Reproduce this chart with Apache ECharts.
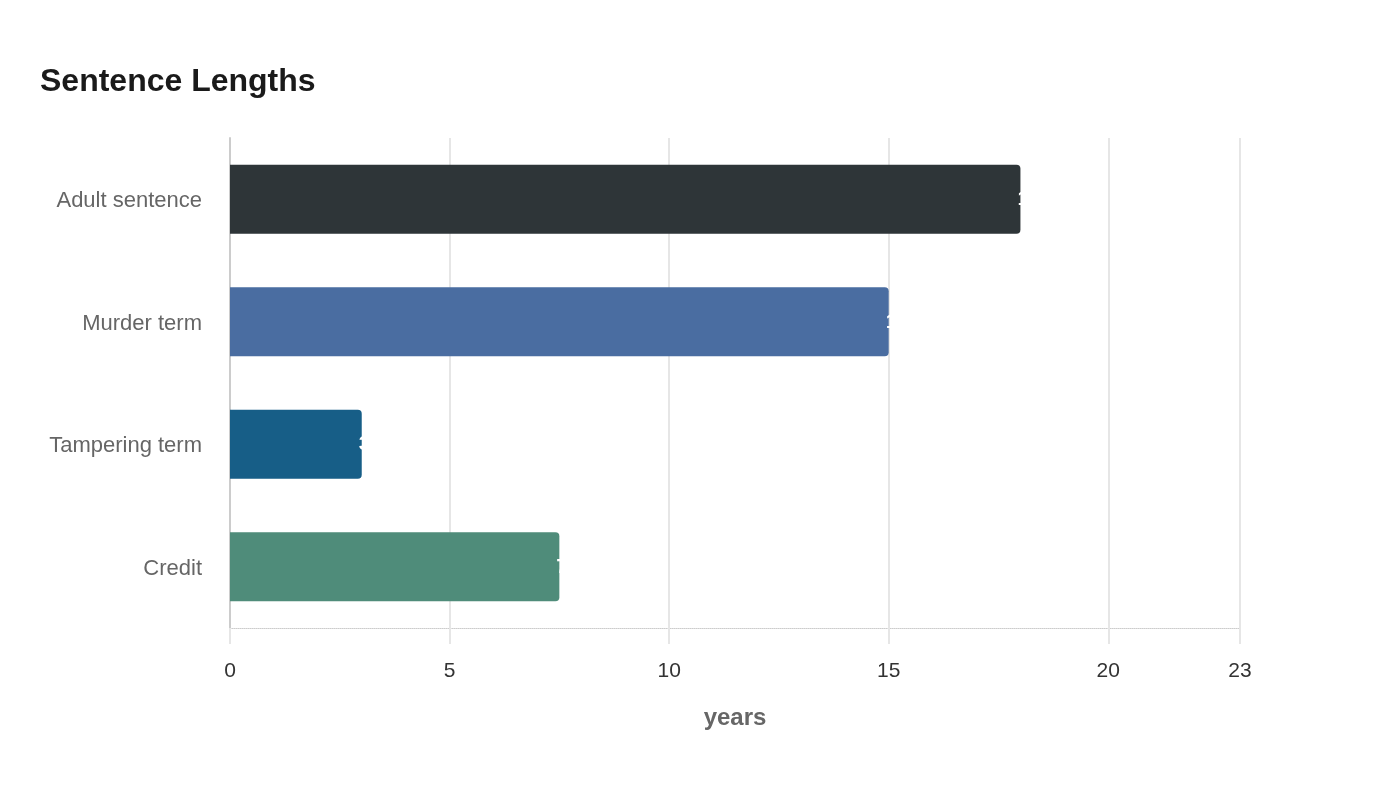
<!DOCTYPE html>
<html>
<head>
<meta charset="utf-8">
<script src="https://cdn.jsdelivr.net/npm/echarts@6/dist/echarts.min.js"></script>
<style>
  html, body { margin: 0; padding: 0; background: #fff; }
  #chart { width: 1400px; height: 800px; }
</style>
</head>
<body>
<div id="chart"></div>
<script>
const categories = ['Adult sentence', 'Murder term', 'Tampering term', 'Credit'];
const years = [18, 15, 3, 7.5];
const barColors = ['#2e3538', '#4a6da1', '#175e87', '#4f8c7a'];

const font = '"Liberation Sans", Arial, sans-serif';

let myChart = echarts.init(document.getElementById('chart'));
let option = {
    backgroundColor: '#ffffff',
    animation: false,
    textStyle: { fontFamily: font },
    title: {
        text: 'Sentence Lengths',
        left: 35,
        top: 61,
        textStyle: { fontSize: 32, fontWeight: 'bold', color: '#1a1a1a', fontFamily: font }
    },
    grid: { left: 230, right: 160, top: 138, bottom: 172, containLabel: false },
    xAxis: {
        type: 'value',
        min: 0,
        max: 23,
        interval: 5,
        name: 'years',
        nameLocation: 'middle',
        nameGap: 78,
        nameTextStyle: { fontSize: 24, fontWeight: 'bold', color: '#666666', fontFamily: font },
        axisLine: { show: true, lineStyle: { color: '#cccccc', type: 'dotted', width: 1 } },
        axisTick: { show: true, length: 16, lineStyle: { color: '#e6e6e6', width: 2 } },
        axisLabel: { fontSize: 21, color: '#333333', margin: 33, fontFamily: font, showMaxLabel: true },
        splitLine: { show: true, lineStyle: { color: '#e6e6e6', width: 2 } }
    },
    yAxis: {
        type: 'category',
        data: categories,
        inverse: true,
        axisLine: { show: true, lineStyle: { color: '#cccccc', width: 2 } },
        axisTick: { show: false },
        axisLabel: { fontSize: 22, color: '#666666', margin: 28, lineHeight: 30, verticalAlign: 'top', padding: [-13, 0, 0, 0], fontFamily: font },
        splitLine: { show: false }
    },
    series: [{
        type: 'bar',
        barWidth: 69,
        data: years.map((v, i) => ({ value: v, itemStyle: { color: barColors[i] } })),
        itemStyle: { borderRadius: [0, 4, 4, 0] },
        label: {
            show: true,
            position: 'right',
            distance: -3,
            color: '#ffffff',
            fontSize: 21,
            fontWeight: 'bold',
            fontFamily: font
        }
    }]
};
myChart.setOption(option);
</script>
</body>
</html>
